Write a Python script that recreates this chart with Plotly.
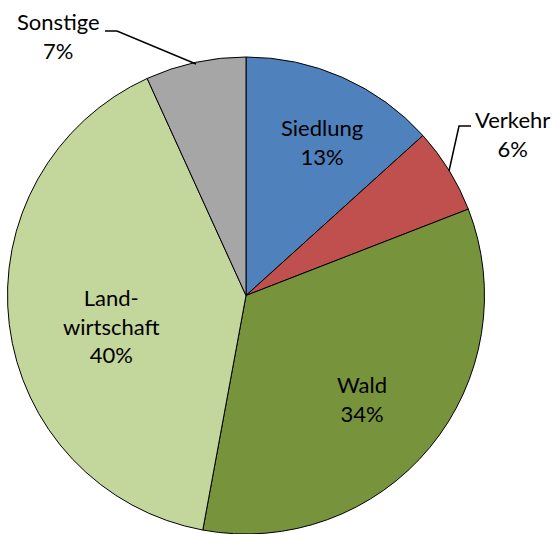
import plotly.graph_objects as go

categories = ["Siedlung", "Verkehr", "Wald", "Landwirtschaft", "Sonstige"]
values = [13.3, 5.8, 33.8, 40.3, 6.8]
label_text = ["Siedlung<br>13%", "Verkehr<br>6%", "Wald<br>34%", "Land-<br>wirtschaft<br>40%", "Sonstige<br>7%"]
colors = ["#4F81BD", "#C0504D", "#77933C", "#C3D69B", "#A6A6A6"]

W, H = 557, 534
# label centres in pixels (layout positions for text)
label_px = [(322, 142), (512, 134), (362, 399), (111, 326), (58, 36)]

def px(x):
    return x / W

def py(y):
    return 1 - y / H

fig = go.Figure(go.Pie(
    labels=categories,
    values=values,
    sort=False,
    direction="clockwise",
    rotation=0,
    textinfo="none",
    hoverinfo="label+percent",
    marker=dict(colors=colors, line=dict(color="black", width=1)),
    domain=dict(x=[px(6), px(486)], y=[0, py(57)]),
    showlegend=False,
))

for (x, y), t in zip(label_px, label_text):
    fig.add_annotation(x=px(x), y=py(y), xref="paper", yref="paper", text=t,
                       showarrow=False, xanchor="center", yanchor="middle",
                       font=dict(family="Lato", size=22, color="black"))

leader_paths = [
    [(105, 31), (117, 31), (196, 64)],
    [(471, 126), (459, 126), (449, 171)],
]
for pts in leader_paths:
    d = "M " + " L ".join(f"{px(a)} {py(b)}" for a, b in pts)
    fig.add_shape(type="path", path=d, xref="paper", yref="paper",
                  line=dict(color="black", width=1.5))

fig.update_layout(width=W, height=H, margin=dict(l=0, r=0, t=0, b=0),
                  paper_bgcolor="white", plot_bgcolor="white")
fig.write_html("out.html", config={"displayModeBar": False})

with open("out.html", encoding="utf-8") as f:
    html = f.read()
html = html.replace("<head>", "<head><style>html,body{margin:0;padding:0;overflow:hidden}</style>", 1)
with open("out.html", "w", encoding="utf-8") as f:
    f.write(html)
